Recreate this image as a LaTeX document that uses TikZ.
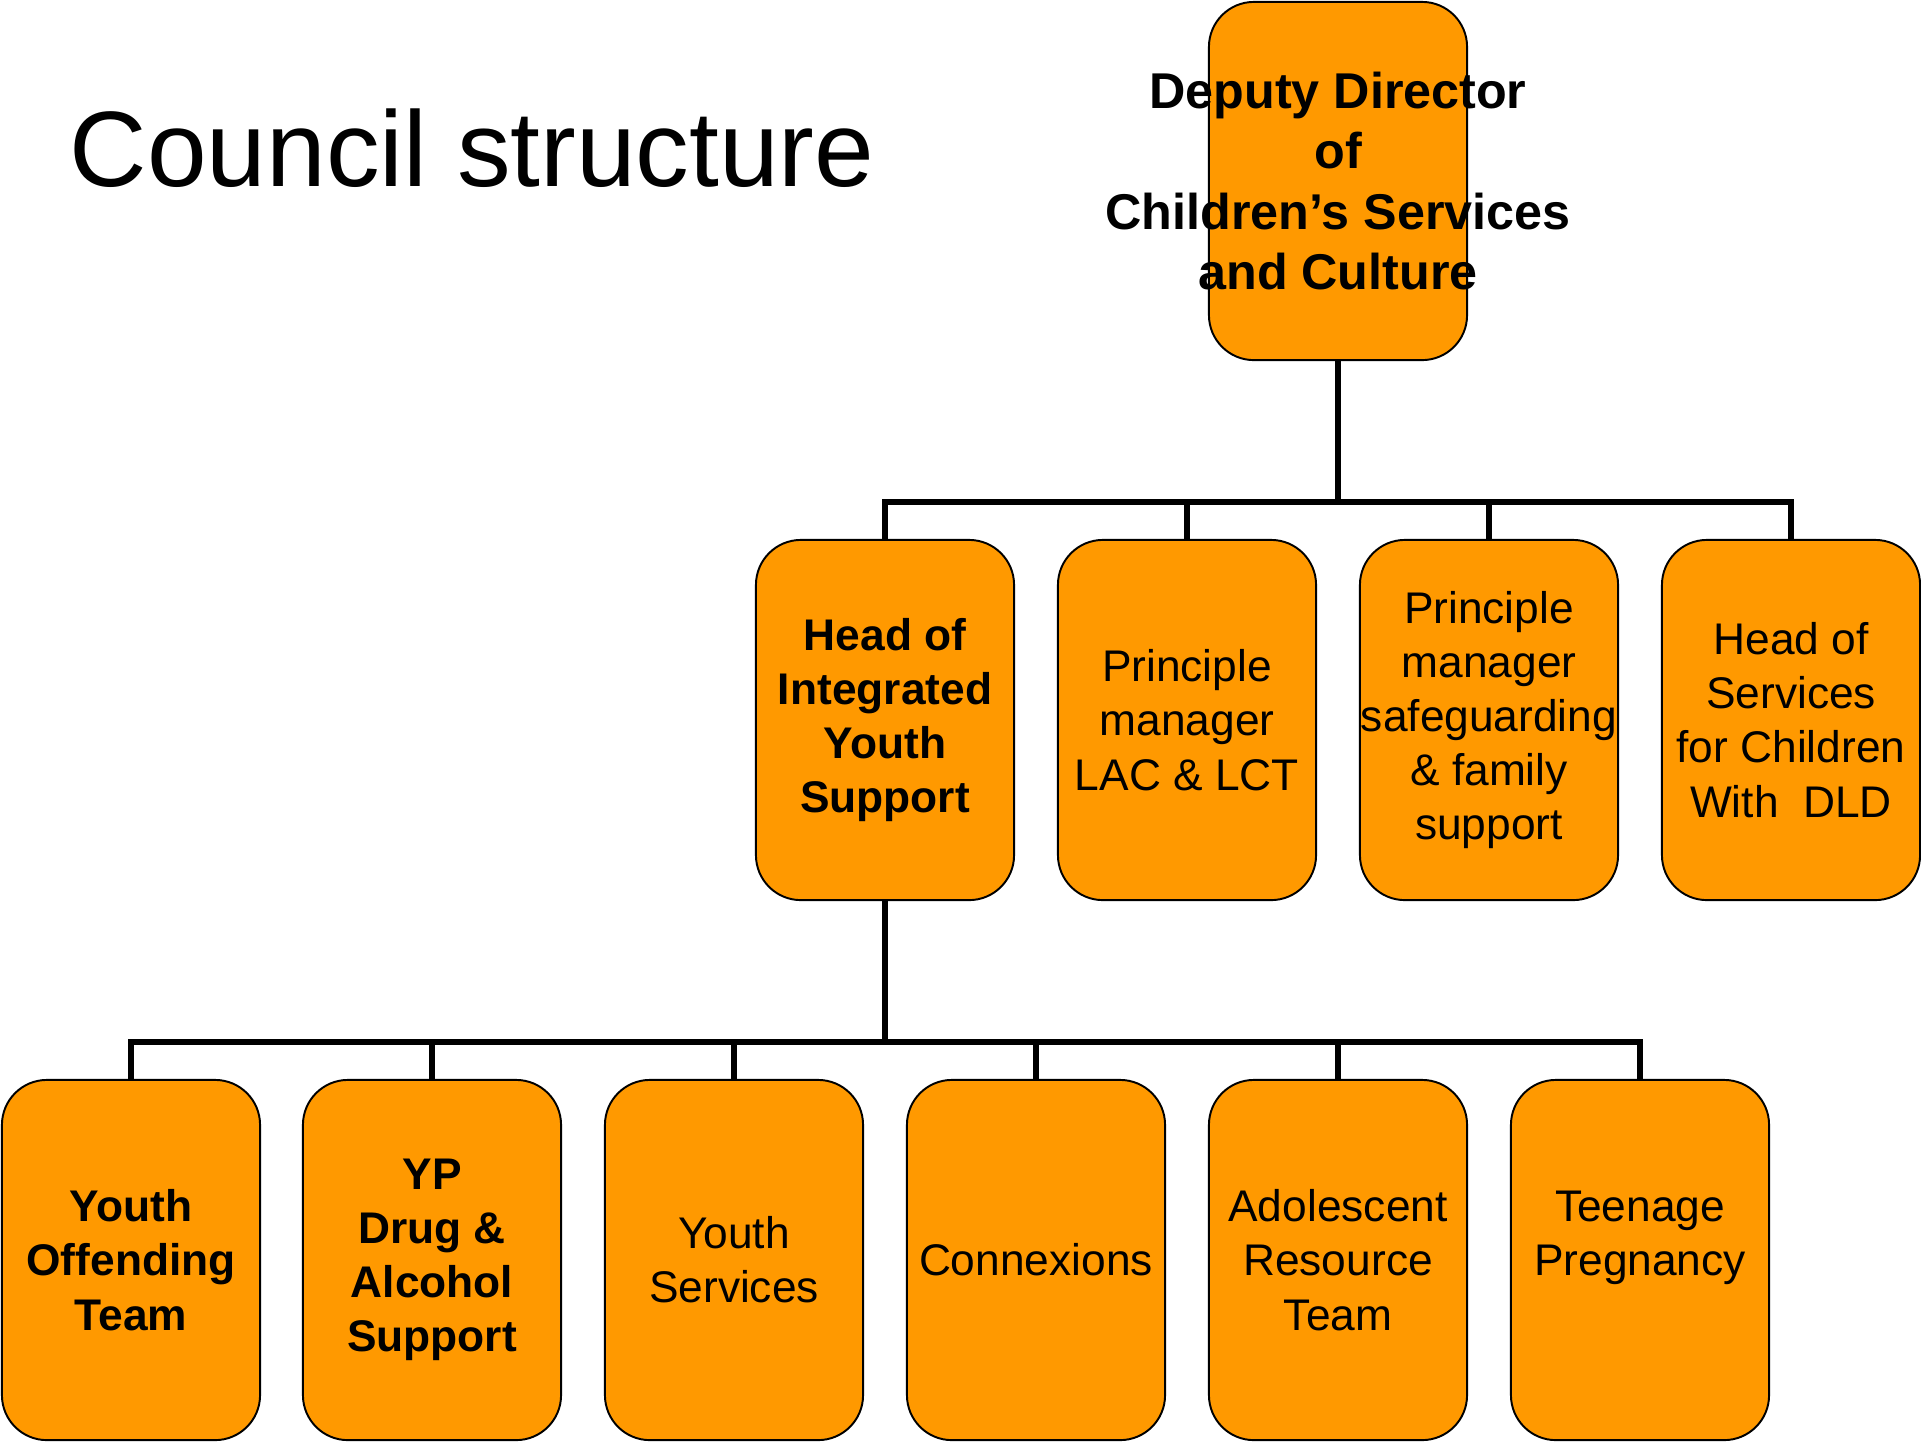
\documentclass[tikz,border=0pt]{standalone}
\usepackage{fontspec}
\setmainfont{Liberation Sans}
\usetikzlibrary{positioning}
\definecolor{unitorange}{RGB}{255,153,0}

\begin{document}
\begin{tikzpicture}[x=0.01cm,y=0.01cm,
    unit/.style={draw=black,line width=0.55pt,fill=unitorange,rounded corners=0.45cm,
      minimum width=2.58cm,minimum height=3.6cm,inner sep=0pt,align=center,
      font=\fontsize{12.6}{15.4}\selectfont},
    link/.style={line width=1.6pt}]
    \useasboundingbox (0,0) rectangle (1921,-1441);
    \node[anchor=base west,inner sep=0pt,font=\fontsize{30.5}{36}\selectfont] (title) at (69,-186) {Council structure};
    % director (text runs over the box)
    \node[unit,minimum height=3.58cm] (dd) at (1338,-181) {};
    \node[inner sep=0pt,align=center,font=\fontsize{14.3}{17.1}\selectfont\bfseries] (ddtext) at (dd)
      {Deputy Director\\of\\Children’s Services\\and Culture};
    % managers
    \node[unit,font=\fontsize{12.6}{15.4}\selectfont\bfseries] (m1) at (885,-720) {Head of\\Integrated\\Youth\\Support};
    \node[unit] (m2) at (1187,-720) {Principle\\manager\\LAC \& LCT};
    \node[unit] (m3) at (1489,-720) {Principle\\manager\\safeguarding\\\& family\\support};
    \node[unit] (m4) at (1791,-720) {Head of\\Services\\for Children\\With~~DLD};
    % teams
    \node[unit,font=\fontsize{12.6}{15.4}\selectfont\bfseries] (t1) at (131,-1260) {Youth\\Offending\\Team};
    \node[unit,font=\fontsize{12.6}{15.4}\selectfont\bfseries] (t2) at (432,-1260) {YP\\Drug \&\\Alcohol\\Support};
    \node[unit] (t3) at (734,-1260) {Youth\\Services};
    \node[unit] (t4) at (1036,-1260) {Connexions};
    \node[unit] (t5) at (1338,-1260) {Adolescent\\Resource\\Team};
    \node[unit] (t6) at (1640,-1260) {Teenage\\Pregnancy\\\mbox{}};
    % connectors
    \coordinate (bar1) at (1338,-502);
    \coordinate (bar2) at (885,-1042);
    \draw[link] (dd.south) -- (bar1);
    \foreach \n in {m1,m2,m3,m4}
      \draw[link] (bar1) -| (\n.north);
    \draw[link] (m1.south) -- (bar2);
    \foreach \n in {t1,t2,t3,t4,t5,t6}
      \draw[link] (bar2) -| (\n.north);
\end{tikzpicture}
\end{document}
